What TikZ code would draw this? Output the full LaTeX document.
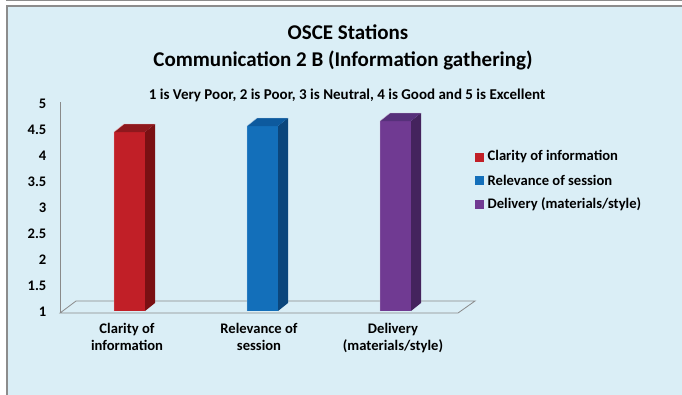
\documentclass[tikz,border=0pt]{standalone}
\usepackage{fontspec}
\setmainfont{Carlito}
\definecolor{bg}{HTML}{DAEEF6}
\definecolor{frame}{HTML}{8C8C8C}
\definecolor{floorc}{HTML}{8A8A8A}
\definecolor{redf}{HTML}{C11F27}
\definecolor{reds}{HTML}{7A1013}
\definecolor{redt}{HTML}{8E181D}
\definecolor{bluef}{HTML}{136FBA}
\definecolor{blues}{HTML}{0B467C}
\definecolor{bluet}{HTML}{0D5A9E}
\definecolor{purf}{HTML}{703A92}
\definecolor{purs}{HTML}{44235D}
\definecolor{purt}{HTML}{56307A}
\newcommand\chartbar[6]{%
  \fill[#4] (#1,311) rectangle (#2,#3);
  \fill[#5] (#2,311) -- (#2+10,303) -- (#2+10,#3-8) -- (#2,#3) -- cycle;
  \fill[#6] (#1,#3) -- (#1+10,#3-8) -- (#2+10,#3-8) -- (#2,#3) -- cycle;
  \draw[white!70!#4, line width=0.4pt] (#1,311) -- (#1,#3) -- (#1+10,#3-8) -- (#2+10,#3-8);
}
\tikzset{
  ttl/.style={font=\bfseries\fontsize{21}{24}\selectfont, inner sep=0pt, anchor=center},
  sub/.style={font=\bfseries\fontsize{15}{17}\selectfont, inner sep=0pt, anchor=center},
  ytick/.style={font=\bfseries\fontsize{14.6}{17}\selectfont, inner sep=0pt, anchor=east},
  xlab/.style={font=\bfseries\fontsize{14.6}{17.5}\selectfont, inner sep=0pt, align=center, anchor=north},
  legtxt/.style={font=\bfseries\fontsize{14.6}{17}\selectfont, inner sep=0pt, anchor=west},
}
\begin{document}
\begin{tikzpicture}[x=1pt,y=-1pt]
\useasboundingbox (0,0) rectangle (682,394);
\fill[white] (0,0) rectangle (682,394);
\draw[frame, line width=1pt] (6,0.5) -- (682,0.5);
\fill[bg] (6,5) rectangle (690,400);
\draw[frame, line width=1.6pt] (6.8,400) -- (6.8,5.8) -- (690,5.8);
% titles
\node[ttl] (t1) at (348,32) {OSCE Stations};
\node[ttl] (t2) at (343,60) {Communication 2 B (Information gathering)};
\node[sub] (t3) at (347,95) {1 is Very Poor, 2 is Poor, 3 is Neutral, 4 is Good and 5 is Excellent};
% y axis
\draw[floorc, line width=0.8pt] (60,102) -- (60,313);
\foreach \v/\yy in {5/104,4.5/130,4/156,3.5/182,3/208,2.5/234,2/260,1.5/286,1/312}
  \node[ytick] (y\yy) at (46.5,\yy) {\v};
% floor
\draw[floorc, line width=0.8pt] (60,313) -- (76,301) -- (475,301) -- (458,313) -- cycle;
% bars
\chartbar{114}{145}{132}{redf}{reds}{redt}
\chartbar{247}{278}{126}{bluef}{blues}{bluet}
\chartbar{380}{411}{121}{purf}{purs}{purt}
% x labels
\node[xlab] (x1) at (127,323) {Clarity of\\information};
\node[xlab] (x2) at (259,323) {Relevance of\\session};
\node[xlab] (x3) at (393,323) {Delivery\\(materials/style)};
% legend
\fill[redf] (475,152.5) rectangle (484,161.5);
\fill[bluef] (475,175.5) rectangle (484,184.5);
\fill[purf] (475,199.5) rectangle (484,208.5);
\node[legtxt] (l1) at (487.5,157) {Clarity of information};
\node[legtxt] (l2) at (487.5,180) {Relevance of session};
\node[legtxt] (l3) at (487.5,204) {Delivery (materials/style)};
\end{tikzpicture}
\end{document}
